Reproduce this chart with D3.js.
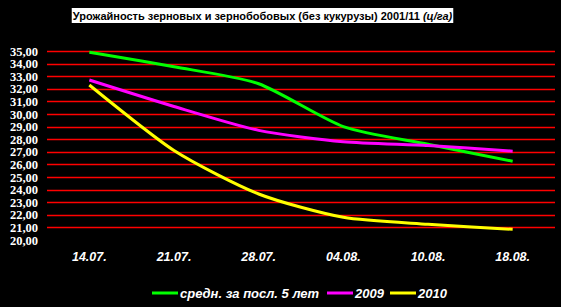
<!DOCTYPE html>
<html>
<head>
<meta charset="utf-8">
<script src="https://cdn.jsdelivr.net/npm/d3@7"></script>
<style>
  body { margin: 0; background: #000; }
  svg { display: block; }
</style>
</head>
<body>
<svg></svg>
<script>
// data
const dates = ['14.07.', '21.07.', '28.07.', '04.08.', '10.08.', '18.08.'];
const avg5 = [34.9, 33.75, 32.4, 29.0, 27.6, 26.25];
const y2009 = [32.7, 30.6, 28.7, 27.8, 27.5, 27.05];
const y2010 = [32.3, 27.1, 23.65, 21.8, 21.25, 20.85];
const yTicks = d3.range(20, 35.5, 1);

const seriesNames = ['средн. за посл. 5 лет', '2009', '2010'];
const seriesColors = ['#00ff00', '#ff00ff', '#ffff00'];

(() => {
    const width = 561, height = 307;
    const plot = { left: 47, right: 555, top: 51, bottom: 240 };

    const svg = d3.select('svg')
        .attr('width', width)
        .attr('height', height);

    svg.append('rect').attr('width', width).attr('height', height).attr('fill', '#000');

    const x = d3.scaleBand()
        .domain(dates)
        .range([plot.left, plot.right]);

    const y = d3.scaleLinear()
        .domain([20, 35])
        .range([plot.bottom, plot.top]);

    // gridlines (none on the 20 baseline)
    svg.append('g')
        .selectAll('line')
        .data(yTicks.filter(d => d > 20))
        .enter().append('line')
        .attr('x1', plot.left)
        .attr('x2', plot.right)
        .attr('y1', d => Math.round(y(d)) + 0.5)
        .attr('y2', d => Math.round(y(d)) + 0.5)
        .attr('stroke', '#ff0000')
        .attr('stroke-width', 1.5);

    // y axis labels
    const yAxis = svg.append('g')
        .attr('transform', `translate(${plot.left - 9}, 0)`)
        .call(d3.axisLeft(y).tickValues(yTicks).tickSize(0).tickPadding(0)
            .tickFormat(d => d3.format('.2f')(d).replace('.', ',')));
    yAxis.select('.domain').remove();
    yAxis.selectAll('text')
        .attr('fill', '#fff')
        .attr('font-family', '"Liberation Serif", "DejaVu Serif", serif')
        .attr('font-weight', 'bold')
        .attr('font-size', 12.5);

    // x axis labels
    const xAxis = svg.append('g')
        .attr('transform', `translate(0, 252)`)
        .call(d3.axisBottom(x).tickSize(0).tickPadding(0));
    xAxis.select('.domain').remove();
    xAxis.selectAll('text')
        .attr('fill', '#fff')
        .attr('font-family', '"Liberation Sans", Arial, sans-serif')
        .attr('font-weight', 'bold')
        .attr('font-style', 'italic')
        .attr('font-size', 12.5);

    // series
    const line = d3.line()
        .x((d, i) => x(dates[i]) + x.bandwidth() / 2)
        .y(d => y(d))
        .curve(d3.curveCardinal.tension(0.3));

    svg.append('g')
        .selectAll('path')
        .data([avg5, y2009, y2010])
        .enter().append('path')
        .attr('d', line)
        .attr('fill', 'none')
        .attr('stroke', (d, i) => seriesColors[i])
        .attr('stroke-width', 3);

    // title
    const title = svg.append('g');
    const titleText = title.append('text')
        .attr('y', 20)
        .attr('font-family', '"Liberation Sans", Arial, sans-serif')
        .attr('font-weight', 'bold')
        .attr('font-size', 11)
        .attr('fill', '#000');
    titleText.append('tspan').text('Урожайность зерновых и зернобобовых (без кукурузы) 2001/11 ');
    titleText.append('tspan').attr('font-style', 'italic').text('(ц/га)');
    const tw = titleText.node().getComputedTextLength();
    const tx = 262.5 - tw / 2;
    titleText.attr('x', tx);
    title.insert('rect', 'text')
        .attr('x', tx - 1)
        .attr('y', 8)
        .attr('width', tw + 2)
        .attr('height', 15)
        .attr('fill', '#fff');

    // legend
    const legendPos = [152, 327, 390];
    const legend = svg.append('g')
        .selectAll('g')
        .data(seriesNames)
        .enter().append('g')
        .attr('transform', (d, i) => `translate(${legendPos[i]}, 293)`);

    legend.append('line')
        .attr('x1', 0)
        .attr('x2', 26)
        .attr('stroke', (d, i) => seriesColors[i])
        .attr('stroke-width', 3);

    legend.append('text')
        .attr('x', 28)
        .attr('dy', '0.35em')
        .attr('fill', '#fff')
        .attr('font-family', '"Liberation Sans", Arial, sans-serif')
        .attr('font-weight', 'bold')
        .attr('font-style', 'italic')
        .attr('font-size', 13)
        .text(d => d);
})();
</script>
</body>
</html>
